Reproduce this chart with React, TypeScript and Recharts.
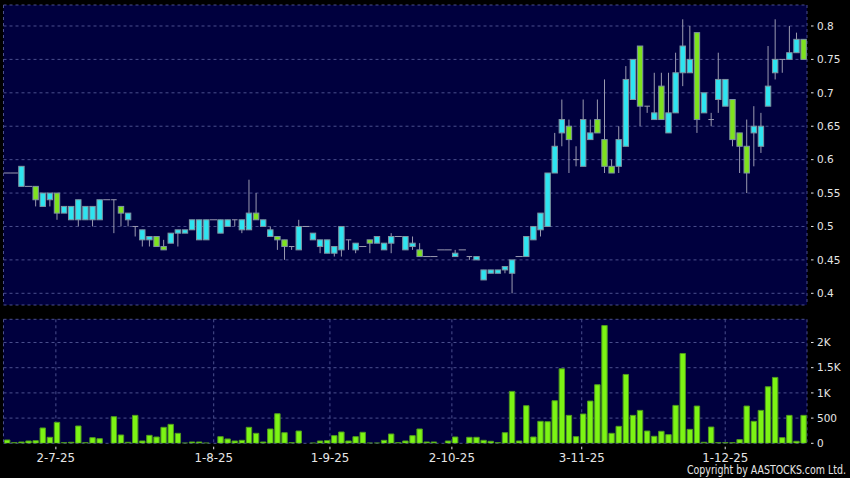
import React from 'react';
import { ComposedChart, Bar, XAxis, YAxis, CartesianGrid } from 'recharts';

// ---- data ----
const opens = [
  0.58, 0.58, 0.56, 0.56, 0.56, 0.53, 0.54, 0.55, 0.52, 0.51,
  0.51, 0.51, 0.51, 0.51, 0.54, 0.54, 0.53, 0.51, 0.50, 0.48,
  0.48, 0.485, 0.47, 0.475, 0.49, 0.49, 0.495, 0.48, 0.48, 0.51,
  0.49, 0.50, 0.51, 0.495, 0.495, 0.52, 0.50, 0.485, 0.485, 0.48,
  0.47, 0.465, 0.50, 0.48, 0.47, 0.46, 0.46, 0.465, 0.48, 0.465,
  0.47, 0.48, 0.475, 0.465, 0.475, 0.485, 0.465, 0.47, 0.465, 0.455,
  0.455, 0.465, 0.465, 0.455, 0.465, 0.455, 0.45, 0.42, 0.43, 0.43,
  0.435, 0.43, 0.455, 0.455, 0.48, 0.495, 0.50, 0.58, 0.64, 0.65,
  0.60, 0.59, 0.63, 0.66, 0.63, 0.59, 0.59, 0.62, 0.69, 0.77,
  0.68, 0.66, 0.71, 0.64, 0.67, 0.73, 0.73, 0.79, 0.67, 0.66,
  0.69, 0.68, 0.69, 0.64, 0.62, 0.64, 0.62, 0.68, 0.73, 0.75,
  0.75, 0.76, 0.78,
];
const closes = [
  0.58, 0.58, 0.59, 0.56, 0.54, 0.55, 0.55, 0.52, 0.53, 0.53,
  0.54, 0.53, 0.53, 0.54, 0.54, 0.54, 0.52, 0.52, 0.50, 0.495,
  0.485, 0.47, 0.465, 0.49, 0.495, 0.495, 0.51, 0.51, 0.51, 0.51,
  0.51, 0.51, 0.51, 0.51, 0.52, 0.51, 0.51, 0.495, 0.48, 0.47,
  0.47, 0.50, 0.50, 0.49, 0.48, 0.48, 0.47, 0.50, 0.48, 0.475,
  0.47, 0.475, 0.485, 0.475, 0.485, 0.485, 0.485, 0.475, 0.455, 0.455,
  0.455, 0.465, 0.465, 0.46, 0.465, 0.455, 0.455, 0.435, 0.435, 0.435,
  0.44, 0.45, 0.455, 0.485, 0.50, 0.52, 0.58, 0.62, 0.66, 0.63,
  0.60, 0.66, 0.64, 0.64, 0.59, 0.58, 0.63, 0.72, 0.75, 0.68,
  0.68, 0.67, 0.66, 0.67, 0.73, 0.77, 0.75, 0.66, 0.70, 0.66,
  0.72, 0.72, 0.63, 0.62, 0.58, 0.65, 0.65, 0.71, 0.75, 0.75,
  0.76, 0.78, 0.75,
];
const highs = [
  0.58, 0.58, 0.59, 0.56, 0.56, 0.55, 0.55, 0.55, 0.53, 0.53,
  0.54, 0.53, 0.53, 0.54, 0.54, 0.54, 0.53, 0.52, 0.50, 0.495,
  0.485, 0.485, 0.48, 0.49, 0.495, 0.495, 0.51, 0.51, 0.51, 0.51,
  0.51, 0.51, 0.51, 0.51, 0.57, 0.55, 0.51, 0.50, 0.485, 0.48,
  0.47, 0.51, 0.50, 0.49, 0.48, 0.48, 0.47, 0.50, 0.48, 0.475,
  0.47, 0.48, 0.485, 0.475, 0.49, 0.485, 0.485, 0.485, 0.475, 0.455,
  0.455, 0.465, 0.465, 0.465, 0.465, 0.455, 0.455, 0.435, 0.435, 0.435,
  0.44, 0.45, 0.455, 0.485, 0.50, 0.52, 0.58, 0.64, 0.69, 0.66,
  0.62, 0.69, 0.66, 0.69, 0.72, 0.60, 0.65, 0.74, 0.75, 0.77,
  0.68, 0.73, 0.73, 0.73, 0.76, 0.81, 0.80, 0.79, 0.70, 0.67,
  0.76, 0.72, 0.69, 0.64, 0.66, 0.68, 0.67, 0.77, 0.81, 0.75,
  0.80, 0.79, 0.78,
];
const lows = [
  0.58, 0.58, 0.56, 0.56, 0.53, 0.53, 0.53, 0.51, 0.52, 0.51,
  0.50, 0.51, 0.50, 0.51, 0.54, 0.49, 0.50, 0.50, 0.485, 0.47,
  0.47, 0.47, 0.465, 0.475, 0.47, 0.49, 0.495, 0.48, 0.48, 0.51,
  0.49, 0.50, 0.50, 0.49, 0.495, 0.51, 0.50, 0.485, 0.465, 0.45,
  0.465, 0.465, 0.50, 0.48, 0.46, 0.46, 0.455, 0.455, 0.465, 0.46,
  0.47, 0.46, 0.475, 0.465, 0.46, 0.485, 0.465, 0.465, 0.455, 0.455,
  0.455, 0.465, 0.465, 0.455, 0.465, 0.45, 0.45, 0.42, 0.43, 0.43,
  0.43, 0.40, 0.455, 0.455, 0.48, 0.485, 0.50, 0.58, 0.62, 0.58,
  0.59, 0.59, 0.63, 0.64, 0.58, 0.58, 0.58, 0.62, 0.69, 0.65,
  0.67, 0.66, 0.66, 0.64, 0.67, 0.71, 0.73, 0.64, 0.67, 0.65,
  0.67, 0.68, 0.62, 0.58, 0.55, 0.59, 0.61, 0.68, 0.72, 0.73,
  0.75, 0.76, 0.75,
];
const volumes = [
  66, 13, 26, 46, 53, 304, 119, 416, 13, 20,
  343, 13, 112, 92, 0, 528, 165, 20, 554, 46,
  158, 125, 317, 376, 198, 5, 26, 26, 5, 0,
  132, 86, 46, 59, 317, 198, 26, 284, 587, 211,
  13, 244, 0, 5, 46, 53, 152, 224, 46, 132,
  218, 5, 5, 59, 185, 13, 46, 152, 284, 26,
  26, 0, 46, 125, 0, 119, 119, 59, 40, 13,
  211, 1030, 46, 746, 125, 436, 429, 845, 1478, 554,
  132, 581, 838, 1162, 2336, 198, 337, 1366, 554, 653,
  244, 139, 238, 172, 752, 1782, 277, 739, 20, 323,
  13, 13, 13, 73, 739, 436, 653, 1122, 1307, 112,
  554, 40, 554,
];
const dateTickIndex = [7.3, 29.3, 45.5, 62.5, 80.6, 100.6];
const dateTickLabels = ['2-7-25', '1-8-25', '1-9-25', '2-10-25', '3-11-25', '1-12-25'];
const priceTicks = [0.4, 0.45, 0.5, 0.55, 0.6, 0.65, 0.7, 0.75, 0.8];
const priceTickLabels = ['0.4', '0.45', '0.5', '0.55', '0.6', '0.65', '0.7', '0.75', '0.8'];
const volTicks = [0, 500, 1000, 1500, 2000];
const volTickLabels = ['0', '500', '1K', '1.5K', '2K'];

const data = opens.map((o, i) => ({
  i,
  o,
  c: closes[i],
  h: highs[i],
  l: lows[i],
  v: volumes[i],
}));

// ---- styles ----
const FONT = 'DejaVu Sans';
const NAVY = '#00003e';
const GRID = '#4a4f8e';
const TEXT = '#e6e6e6';
const UP = '#2ee4f0';
const DOWN = '#7ee21e';
const BORDER = '#7f95a2';
const WICK = '#9a9ab0';
const VOL = '#7cf414';
const VOL_BORDER = '#4f9a1e';

const Candle = (props: any) => {
  const { x, y, width, height, payload } = props;
  if (!payload || x == null || y == null) return null;
  const { o, c, h, l } = payload;
  const cx = x + width / 2;
  const k = h > l ? height / (h - l) : 0;
  const py = (v: number) => y + (h - v) * k;
  const bodyW = 5.4;
  if (o === c) {
    const half = h === l ? 3.6 : 2.8;
    return (
      <g>
        {h > l && <line x1={cx} x2={cx} y1={py(h)} y2={py(l)} stroke={WICK} strokeWidth={1} />}
        <line x1={cx - half} x2={cx + half} y1={py(o)} y2={py(o)} stroke={WICK} strokeWidth={1} />
      </g>
    );
  }
  const top = py(Math.max(o, c));
  const bot = py(Math.min(o, c));
  return (
    <g>
      {h > l && <line x1={cx} x2={cx} y1={py(h)} y2={py(l)} stroke={WICK} strokeWidth={1} />}
      <rect
        x={cx - bodyW / 2}
        y={top}
        width={bodyW}
        height={Math.max(bot - top, 0.5)}
        fill={c > o ? UP : DOWN}
        stroke={BORDER}
        strokeWidth={1}
      />
    </g>
  );
};

const makeRightTick = (values: number[], labels: string[]) => (props: any) => {
  const { x, y, payload } = props;
  const idx = values.findIndex((t) => Math.abs(t - payload.value) < 1e-9);
  const label = idx >= 0 ? labels[idx] : String(payload.value);
  return (
    <g>
      <line x1={x + 4} x2={x + 6.5} y1={y} y2={y} stroke={TEXT} strokeWidth={1} />
      <text x={x + 10} y={y + 3.8} fill={TEXT} fontSize={10.5} fontFamily={FONT}>
        {label}
      </text>
    </g>
  );
};

const DateTick = (props: any) => {
  const { x, payload, viewBox } = props;
  const idx = dateTickIndex.findIndex((t) => Math.abs(t - payload.value) < 1e-9);
  const label = idx >= 0 ? dateTickLabels[idx] : '';
  const top = viewBox && viewBox.y != null ? viewBox.y : props.y;
  return (
    <g>
      <line x1={x} x2={x} y1={top + 3.4} y2={top + 6} stroke={TEXT} strokeWidth={1} />
      <text x={x} y={top + 19} textAnchor="middle" fill={TEXT} fontSize={11.8} fontFamily={FONT}>
        {label}
      </text>
    </g>
  );
};

const PriceTick = makeRightTick(priceTicks, priceTickLabels);
const VolTick = makeRightTick(volTicks, volTickLabels);

export default function App() {
  return (
    <div
      style={{
        position: 'fixed',
        left: 0,
        top: 0,
        width: 850,
        height: 478,
        background: '#000',
        overflow: 'hidden',
      }}
    >
      <div style={{ position: 'absolute', left: 0, top: 0 }}>
        <ComposedChart
          width={850}
          height={310}
          data={data}
          margin={{ top: 5, right: 0, bottom: 5, left: 3.5 }}
        >
          <CartesianGrid
            xAxisId="d"
            yAxisId="p"
            fill={NAVY}
            fillOpacity={1}
            stroke={GRID}
            strokeDasharray="3 3"
          />
          <XAxis xAxisId="c" dataKey="i" hide height={0} />
          <XAxis
            xAxisId="d"
            type="number"
            domain={[-0.5, 112.5]}
            allowDataOverflow
            ticks={dateTickIndex}
            interval={0}
            height={0}
            tick={false}
            axisLine={false}
            tickLine={false}
          />
          <YAxis
            yAxisId="p"
            orientation="right"
            width={43}
            domain={[0.3825, 0.8314]}
            allowDataOverflow
            ticks={priceTicks}
            interval={0}
            axisLine={false}
            tickLine={false}
            tickSize={0}
            tickMargin={0}
            tick={PriceTick}
          />
          <Bar
            xAxisId="c"
            yAxisId="p"
            dataKey={(d: any) => [d.l, d.h]}
            shape={Candle}
            isAnimationActive={false}
          />
        </ComposedChart>
      </div>
      <div style={{ position: 'absolute', left: 0, top: 310 }}>
        <ComposedChart
          width={850}
          height={168}
          data={data}
          margin={{ top: 9.3, right: 0, bottom: 0, left: 3.5 }}
        >
          <CartesianGrid
            xAxisId="d"
            yAxisId="v"
            fill={NAVY}
            fillOpacity={1}
            stroke={GRID}
            strokeDasharray="3 3"
          />
          <XAxis
            xAxisId="d"
            type="number"
            domain={[-0.5, 112.5]}
            allowDataOverflow
            ticks={dateTickIndex}
            interval={0}
            height={34.7}
            axisLine={false}
            tickLine={false}
            tickSize={0}
            tickMargin={0}
            tick={DateTick}
          />
          <XAxis xAxisId="c" dataKey="i" hide height={0} />
          <YAxis
            yAxisId="v"
            orientation="right"
            width={43}
            domain={[0, 2460]}
            allowDataOverflow
            ticks={volTicks}
            interval={0}
            axisLine={false}
            tickLine={false}
            tickSize={0}
            tickMargin={0}
            tick={VolTick}
          />
          <Bar
            xAxisId="c"
            yAxisId="v"
            dataKey="v"
            barSize={5.4}
            fill={VOL}
            stroke={VOL_BORDER}
            strokeWidth={1}
            isAnimationActive={false}
          />
        </ComposedChart>
      </div>
      <svg
        width={850}
        height={478}
        style={{ position: 'absolute', left: 0, top: 0, pointerEvents: 'none' }}
      >
        <text
          x={687}
          y={474}
          fill={TEXT}
          fontSize={11.5}
          fontFamily={FONT}
          textLength={159}
          lengthAdjust="spacingAndGlyphs"
        >
          Copyright by AASTOCKS.com Ltd.
        </text>
      </svg>
    </div>
  );
}
